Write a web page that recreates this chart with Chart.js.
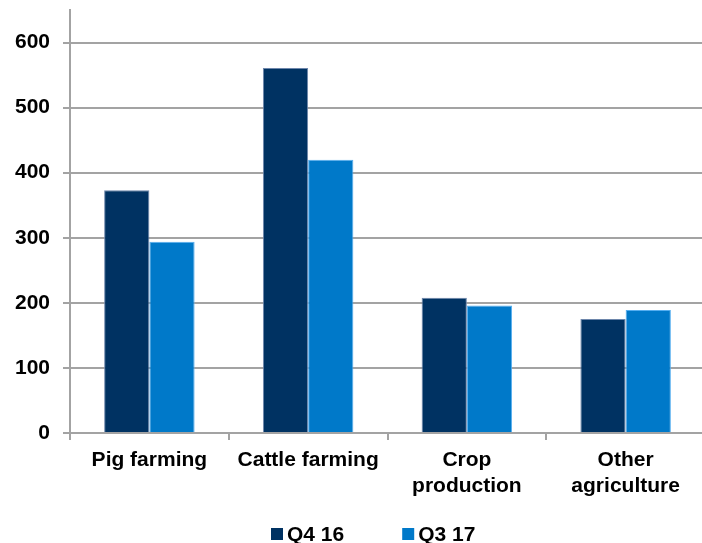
<!DOCTYPE html>
<html>
<head>
<meta charset="utf-8">
<script src="https://cdn.jsdelivr.net/npm/chart.js@4.4.0/dist/chart.umd.min.js"></script>
<style>
  html, body { margin: 0; padding: 0; background: #ffffff; overflow: hidden; }
  #wrap { width: 710px; height: 543px; position: relative; }
</style>
</head>
<body>
<div id="wrap"><canvas id="c"></canvas></div>
<script>
const categories = [['Pig farming'], ['Cattle farming'], ['Crop', 'production'], ['Other', 'agriculture']];
const seriesNames = ['Q4 16', 'Q3 17'];
const q4_16 = [373, 561, 208, 175];
const q3_17 = [294, 420, 196, 189];
const yTicks = [0, 100, 200, 300, 400, 500, 600];

const FONT = "'Liberation Sans', Arial, sans-serif";
const GRID = '#a3a3a3';

const customLegend = {
  id: 'customLegend',
  afterDraw(chart, args, opts) {
    const ctx = chart.ctx;
    ctx.save();
    ctx.font = 'bold 21px ' + FONT;
    ctx.textBaseline = 'middle';
    ctx.textAlign = 'left';
    let x = opts.startX;
    const y = opts.y;
    chart.data.datasets.forEach((ds) => {
      ctx.fillStyle = ds.backgroundColor;
      ctx.fillRect(x, y - 6, 12, 12);
      x += 12 + opts.boxGap;
      ctx.fillStyle = '#000000';
      ctx.fillText(ds.label, x, y + 1);
      x += ctx.measureText(ds.label).width + opts.itemGap;
    });
    ctx.restore();
  }
};

new Chart(document.getElementById('c'), {
  type: 'bar',
  data: {
    labels: categories,
    datasets: [
      { label: seriesNames[0], data: q4_16, backgroundColor: '#003262', borderColor: '#6d86ab', borderWidth: 1 },
      { label: seriesNames[1], data: q3_17, backgroundColor: '#0079c9', borderColor: '#55aef0', borderWidth: 1 }
    ]
  },
  options: {
    responsive: true,
    maintainAspectRatio: false,
    animation: false,
    devicePixelRatio: 1,
    layout: { padding: { top: 10, right: 5, left: 0, bottom: 0 } },
    categoryPercentage: 0.57,
    barPercentage: 1.0,
    plugins: {
      legend: { display: false },
      tooltip: { enabled: false },
      customLegend: { startX: 271, y: 534, boxGap: 4, itemGap: 58 }
    },
    scales: {
      x: {
        offset: true,
        grid: { offset: true, drawOnChartArea: false, drawTicks: true, tickLength: 7, color: GRID, lineWidth: 2 },
        border: { display: true, color: GRID, width: 2 },
        ticks: {
          color: '#000000',
          font: { family: FONT, size: 21, weight: 'bold', lineHeight: 1.25 },
          padding: 7,
          maxRotation: 0,
          autoSkip: false
        },
        afterFit(s) { s.height = 110; s.paddingLeft = 0; s.paddingRight = 0; }
      },
      y: {
        min: 0,
        max: 650,
        afterBuildTicks(s) { s.ticks = yTicks.map(v => ({ value: v })); },
        grid: { drawOnChartArea: true, drawTicks: true, tickLength: 7, color: GRID, lineWidth: 2 },
        border: { display: true, color: GRID, width: 2 },
        ticks: {
          color: '#000000',
          font: { family: FONT, size: 21, weight: 'bold' },
          padding: 13
        },
        afterFit(s) { s.width = 70; s.paddingTop = 0; s.paddingBottom = 0; }
      }
    }
  },
  plugins: [customLegend]
});
</script>
</body>
</html>
